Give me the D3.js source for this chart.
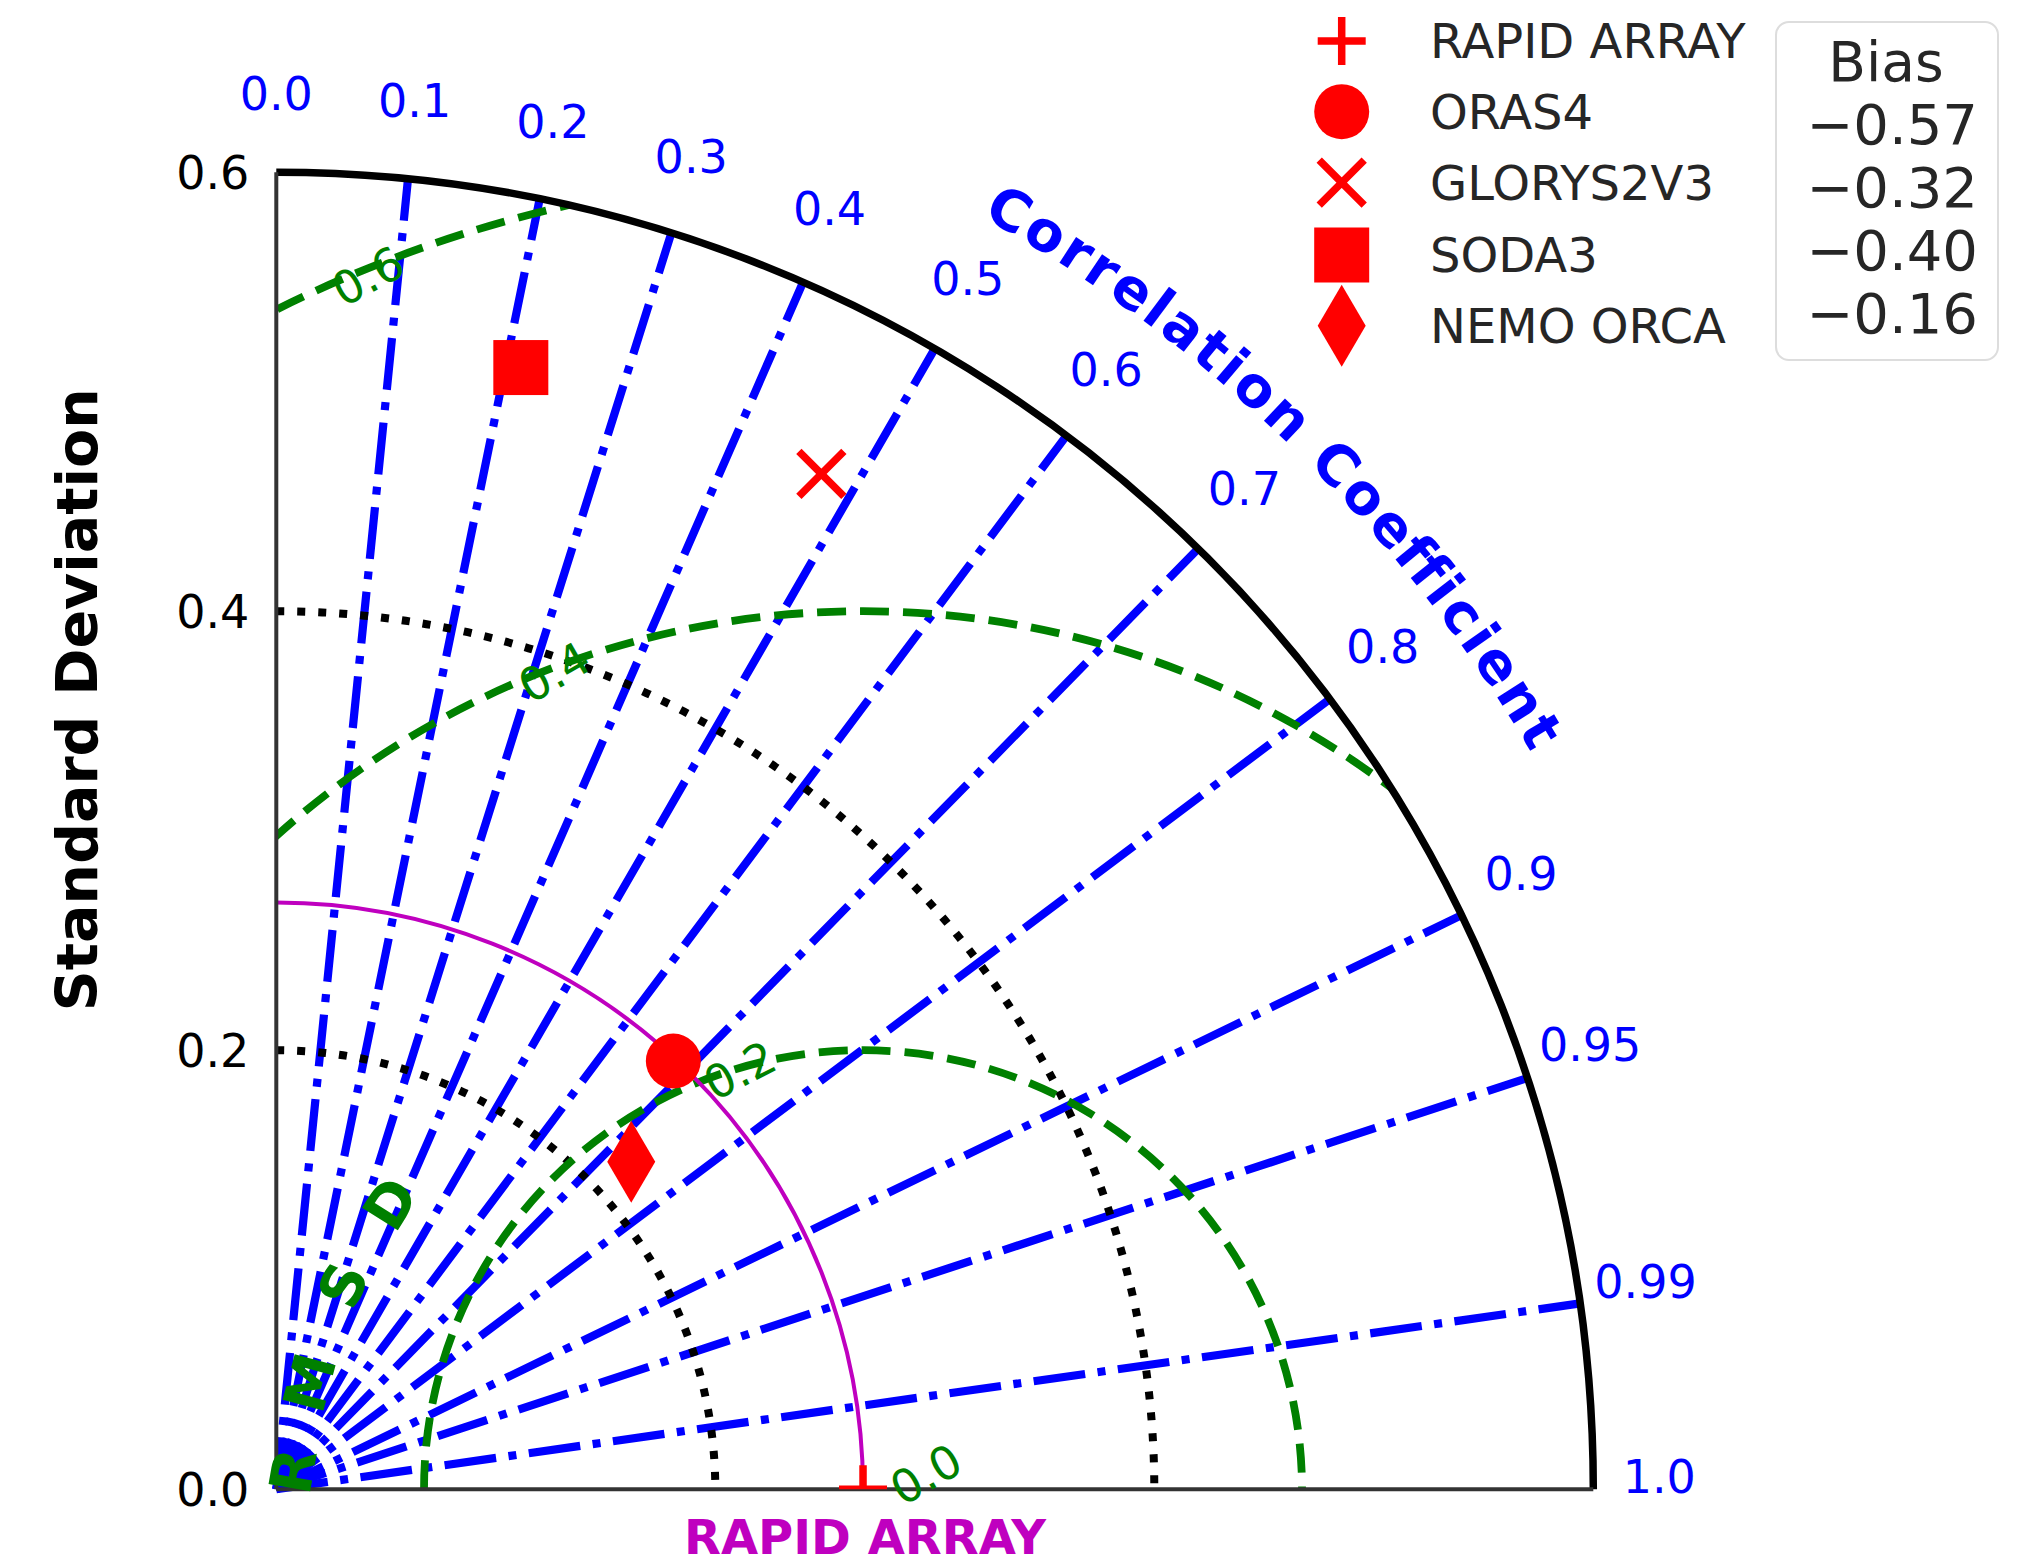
<!DOCTYPE html>
<html>
<head>
<meta charset="utf-8">
<script src="https://cdn.jsdelivr.net/npm/d3@7"></script>
<style>
  html, body { margin: 0; padding: 0; background: #fff; }
  svg { display: block; }
  text { font-family: "DejaVu Sans", sans-serif; }
</style>
</head>
<body>
<script>
// ---- data ---------------------------------------------------------------
const refName = "RAPID ARRAY";
const refStd = 0.2673;

const models     = ["ORAS4", "GLORYS2V3", "SODA3", "NEMO ORCA"];
const modelStd   = [0.266, 0.525, 0.523, 0.220];
const modelCorr  = [0.680, 0.473, 0.213, 0.735];
const modelBias  = [-0.57, -0.32, -0.40, -0.16];
const modelShape = ["circle", "x", "square", "thinDiamond"];

const stdTicks       = [0.0, 0.2, 0.4, 0.6];
const stdTickLabels  = ["0.0", "0.2", "0.4", "0.6"];
const corrTicks      = [0.0, 0.1, 0.2, 0.3, 0.4, 0.5, 0.6, 0.7, 0.8, 0.9, 0.95, 0.99, 1.0];
const corrTickLabels = ["0.0", "0.1", "0.2", "0.3", "0.4", "0.5", "0.6", "0.7", "0.8", "0.9", "0.95", "0.99", "1.0"];
const rmsdLevels     = [0.0, 0.2, 0.4, 0.6];
const rmsdLabels     = ["0.0", "0.2", "0.4", "0.6"];
const stdMax = 0.6;

// ---- layout -------------------------------------------------------------
const W = 2034, H = 1566;
const ox = 276.3, oy = 1489.2;           // origin of the quarter disk
const r = d3.scaleLinear().domain([0, stdMax]).range([0, 1317]);

const BLUE = "#0000ff", GREEN = "#008000", RED = "#ff0000", MAG = "#bf00bf";

const svg = d3.select("body").append("svg").attr("width", W).attr("height", H);

// polar (std, angle in radians from x axis) -> screen
const polar = (s, th) => [ox + r(s) * Math.cos(th), oy - r(s) * Math.sin(th)];

// quarter disk clip
const clipP = d3.path();
clipP.moveTo(ox, oy);
clipP.lineTo(ox, oy - r(stdMax));
clipP.arc(ox, oy, r(stdMax), -Math.PI / 2, 0);
clipP.closePath();
svg.append("clipPath").attr("id", "quad").append("path").attr("d", clipP.toString());

const plot = svg.append("g");

// ---- correlation rays ---------------------------------------------------
plot.append("g").selectAll("path")
  .data(corrTicks.filter(c => c > 0 && c < 1))
  .join("path")
  .attr("d", c => {
    const p = d3.path();
    p.moveTo(ox, oy);
    const [x, y] = polar(stdMax, Math.acos(c));
    p.lineTo(x, y);
    return p.toString();
  })
  .attr("fill", "none")
  .attr("stroke", BLUE)
  .attr("stroke-width", 8.2)
  .attr("stroke-dasharray", "52,12.5,8,12.5");

// ---- standard deviation arcs --------------------------------------------
plot.append("g").selectAll("path")
  .data(stdTicks.filter(s => s > 0 && s < stdMax))
  .join("path")
  .attr("d", s => {
    const p = d3.path();
    p.moveTo(ox, oy - r(s));
    p.arc(ox, oy, r(s), -Math.PI / 2, 0);
    return p.toString();
  })
  .attr("fill", "none")
  .attr("stroke", "#000")
  .attr("stroke-width", 8)
  .attr("stroke-dasharray", "8,13");

// ---- RMSD contours around the reference ---------------------------------
const refX = ox + r(refStd);
plot.append("g").attr("clip-path", "url(#quad)").selectAll("path")
  .data(rmsdLevels.filter(l => l > 0))
  .join("path")
  .attr("d", l => {
    const p = d3.path();
    p.moveTo(refX - r(l), oy);
    p.arc(refX, oy, r(l), Math.PI, 2 * Math.PI);
    return p.toString();
  })
  .attr("fill", "none")
  .attr("stroke", GREEN)
  .attr("stroke-width", 7.8)
  .attr("stroke-dasharray", "29,14");

// reference std arc
{
  const p = d3.path();
  p.moveTo(ox, oy - r(refStd));
  p.arc(ox, oy, r(refStd), -Math.PI / 2, 0);
  plot.append("path").attr("d", p.toString())
    .attr("fill", "none").attr("stroke", MAG).attr("stroke-width", 4);
}

// outer boundary and spines
{
  const p = d3.path();
  p.moveTo(ox, oy - r(stdMax));
  p.arc(ox, oy, r(stdMax), -Math.PI / 2, 0);
  plot.append("path").attr("d", p.toString())
    .attr("fill", "none").attr("stroke", "#000").attr("stroke-width", 7.5);
  plot.append("line").attr("x1", ox).attr("y1", oy).attr("x2", ox).attr("y2", oy - r(stdMax))
    .attr("stroke", "#333").attr("stroke-width", 4);
  plot.append("line").attr("x1", ox).attr("y1", oy).attr("x2", ox + r(stdMax)).attr("y2", oy)
    .attr("stroke", "#333").attr("stroke-width", 4);
}

// ---- contour labels -----------------------------------------------------
const rmsdLabelAngle = [13.5, 106.4, 110.7, 112.2];   // degrees, measured around the reference
const rmsdLabelRot   = [-30, -27, -30, -28];
plot.append("g").selectAll("text")
  .data(rmsdLevels)
  .join("text")
  .attr("transform", (l, i) => {
    const rr = l === 0 ? r(0.0295) : r(l * 0.995);
    const a = rmsdLabelAngle[i] * Math.PI / 180;
    return `translate(${refX + rr * Math.cos(a)},${oy - rr * Math.sin(a)}) rotate(${rmsdLabelRot[i]})`;
  })
  .attr("text-anchor", "middle")
  .attr("dy", "0.36em")
  .attr("font-size", 46)
  .attr("fill", GREEN)
  .text((l, i) => rmsdLabels[i]);

// "RMSD" title letters near the origin (std-space positions)
const rmsdTitle  = ["R", "M", "S", "D"];
const rmsdTitleX = [0.0074, 0.0150, 0.0302, 0.0518];
const rmsdTitleY = [0.0083, 0.0486, 0.0931, 0.1303];
const rmsdTitleR = [-80, -75, -66, -58];
plot.append("g").selectAll("text")
  .data(rmsdTitle)
  .join("text")
  .attr("transform", (d, i) => `translate(${ox + r(rmsdTitleX[i])},${oy - r(rmsdTitleY[i])}) rotate(${rmsdTitleR[i]})`)
  .attr("text-anchor", "middle")
  .attr("dy", "0.36em")
  .attr("font-size", 58)
  .attr("font-weight", "bold")
  .attr("fill", GREEN)
  .text(d => d);

// ---- axis labels --------------------------------------------------------
// std tick labels on the left
svg.append("g").selectAll("text")
  .data(stdTicks)
  .join("text")
  .attr("x", ox - 27)
  .attr("y", s => oy - r(s))
  .attr("dy", "0.36em")
  .attr("text-anchor", "end")
  .attr("font-size", 46)
  .attr("fill", "#000")
  .text((s, i) => stdTickLabels[i]);

// correlation tick labels around the arc
svg.append("g").selectAll("text")
  .data(corrTicks)
  .join("text")
  .attr("x", c => ox + 1383 * Math.cos(Math.acos(c)))
  .attr("y", c => oy - 1383 * Math.sin(Math.acos(c)) - 13)
  .attr("dy", "0.36em")
  .attr("text-anchor", "middle")
  .attr("font-size", 46)
  .attr("fill", BLUE)
  .text((c, i) => corrTickLabels[i]);

// curved "Correlation Coefficient" title, one glyph at a time along the arc
{
  const title = "Correlation Coefficient";
  const rb = 1455, midDeg = 45.7, ls = 3, fs = 56;
  const probe = svg.append("text")
    .attr("font-size", fs).attr("font-weight", "bold")
    .attr("xml:space", "preserve").style("white-space", "pre")
    .text(title);
  const node = probe.node();
  const widths = Array.from(title, (ch, i) => node.getSubStringLength(i, 1));
  probe.remove();
  const total = d3.sum(widths) + ls * (title.length - 1);
  let s = -total / 2;
  const glyphs = [];
  Array.from(title).forEach((ch, i) => {
    const sc = s + widths[i] / 2;
    s += widths[i] + ls;
    if (ch === " ") return;
    const th = midDeg * Math.PI / 180 - sc / rb;
    glyphs.push({ ch, x: ox + rb * Math.cos(th), y: oy - rb * Math.sin(th), rot: 90 - th * 180 / Math.PI });
  });
  svg.append("g").selectAll("text")
    .data(glyphs)
    .join("text")
    .attr("transform", g => `translate(${g.x},${g.y}) rotate(${g.rot})`)
    .attr("text-anchor", "middle")
    .attr("font-size", fs)
    .attr("font-weight", "bold")
    .attr("fill", BLUE)
    .text(g => g.ch);
}

svg.append("text")
  .attr("transform", `translate(97,${(oy + oy - r(stdMax)) / 2 - 131}) rotate(-90)`)
  .attr("text-anchor", "middle")
  .attr("font-size", 57)
  .attr("font-weight", "bold")
  .attr("fill", "#000")
  .text("Standard Deviation");

svg.append("text")
  .attr("x", refX + 2)
  .attr("y", 1554)
  .attr("text-anchor", "middle")
  .attr("font-size", 48)
  .attr("font-weight", "bold")
  .attr("fill", MAG)
  .text(refName);

// ---- markers ------------------------------------------------------------
function drawMarker(g, shape, x, y) {
  if (shape === "plus") {
    g.append("path").attr("d", `M${x - 24},${y}H${x + 24}M${x},${y - 24}V${y + 24}`)
      .attr("stroke", RED).attr("stroke-width", 7.5).attr("fill", "none");
  } else if (shape === "circle") {
    g.append("circle").attr("cx", x).attr("cy", y).attr("r", 27.5).attr("fill", RED);
  } else if (shape === "x") {
    const a = 22.5;
    g.append("path").attr("d", `M${x - a},${y - a}L${x + a},${y + a}M${x - a},${y + a}L${x + a},${y - a}`)
      .attr("stroke", RED).attr("stroke-width", 7.5).attr("fill", "none");
  } else if (shape === "square") {
    g.append("rect").attr("x", x - 27.5).attr("y", y - 27.5).attr("width", 55).attr("height", 55).attr("fill", RED);
  } else if (shape === "thinDiamond") {
    g.append("path").attr("d", `M${x},${y - 41}L${x + 24},${y}L${x},${y + 41}L${x - 24},${y}Z`).attr("fill", RED);
  }
}

// reference marker sits on the axis and is clipped by it
drawMarker(svg.append("g").attr("clip-path", "url(#quad)"), "plus", refX, oy);

const markG = svg.append("g");
models.forEach((m, i) => {
  const [x, y] = polar(modelStd[i], Math.acos(modelCorr[i]));
  drawMarker(markG, modelShape[i], x, y);
});

// ---- legend -------------------------------------------------------------
const legNames  = [refName].concat(models);
const legShapes = ["plus"].concat(modelShape);
const legMarkY  = [41, 111.7, 182.7, 255, 325.7];
const legG = svg.append("g");
legNames.forEach((n, i) => {
  drawMarker(legG, legShapes[i], 1341.7, legMarkY[i]);
  legG.append("text")
    .attr("x", 1430)
    .attr("y", legMarkY[i] + 17)
    .attr("font-size", 48)
    .attr("fill", "#262626")
    .text(n);
});

// bias box
const biasG = svg.append("g");
biasG.append("rect")
  .attr("x", 1776).attr("y", 22).attr("width", 222).attr("height", 338)
  .attr("rx", 13).attr("fill", "#fff").attr("stroke", "#dddddd").attr("stroke-width", 2);
biasG.append("text")
  .attr("x", 1886).attr("y", 81)
  .attr("text-anchor", "middle").attr("font-size", 55).attr("fill", "#262626")
  .text("Bias");
const fmt = d3.format(".2f");
biasG.selectAll("text.val")
  .data(modelBias)
  .join("text")
  .attr("class", "val")
  .attr("x", 1978)
  .attr("y", (b, i) => 144 + i * 63)
  .attr("text-anchor", "end")
  .attr("font-size", 56)
  .attr("fill", "#262626")
  .text(b => fmt(b));
</script>
</body>
</html>
